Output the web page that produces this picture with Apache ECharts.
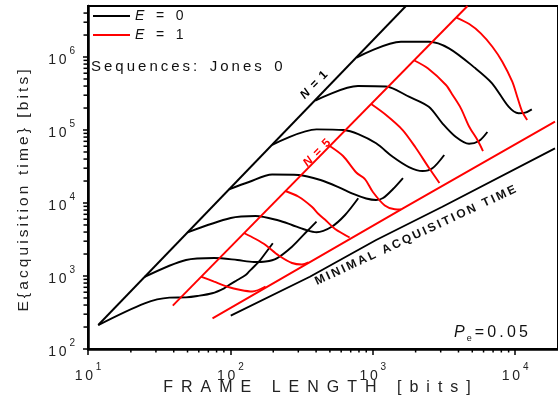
<!DOCTYPE html>
<html>
<head>
<meta charset="utf-8">
<script src="https://cdn.jsdelivr.net/npm/echarts@6/dist/echarts.min.js"></script>
<style>
  html, body { margin: 0; padding: 0; background: #ffffff; }
  #chart { width: 558px; height: 402px; }
</style>
</head>
<body>
<div id="chart"></div>
<script>
// Expected acquisition time against frame length (log-log), Jones sequences,
// black: E = 0, red: E = 1.
const FONT = "'Liberation Sans', Arial, Helvetica, sans-serif";

// ---- axes -------------------------------------------------------------
const xRange = [10, 20000];
const yRange = [100, 5e6];
const xMinorTicks = [20, 30, 40, 50, 60, 70, 80, 90, 200, 300, 400, 500, 600, 700, 800, 900,
                     2000, 3000, 4000, 5000, 6000, 7000, 8000, 9000];
const yMinorTicks = [200, 300, 400, 500, 600, 700, 800, 900, 2000, 3000, 4000, 5000, 6000, 7000, 8000, 9000,
                     2e4, 3e4, 4e4, 5e4, 6e4, 7e4, 8e4, 9e4, 2e5, 3e5, 4e5, 5e5, 6e5, 7e5, 8e5, 9e5,
                     2e6, 3e6, 4e6];
const legendLabels = ['E = 0', 'E = 1'];

// ---- bounding lines [frame length, time] ------------------------------
const boundN1 = [[11.8, 213], [1710, 5.0e6]];
const boundN5 = [[39.4, 392], [4630, 5.0e6]];
const minTimeE0 = [[100.6, 286], [361.6, 977], [1056, 3112], [3083, 8894], [19050, 56100]];
const minTimeE1 = [[74.9, 263], [1630, 8451], [19050, 130000]];

// ---- E = 0 curves ------------------------------------------------------
const e0a = [[11.8, 213], [25.0, 423], [37.3, 505], [48.8, 510], [58.6, 532], [74.5, 580], [90.4, 679],
             [97.9, 753], [111.9, 881], [128, 1032], [135, 1146], [158.6, 1570], [176.6, 2066], [198.6, 2806]];
const e0b = [[25.0, 972], [48.8, 1656], [76.9, 1765], [111.9, 1656], [146.3, 1555], [176.6, 1580],
             [211.8, 1748], [270.8, 2520], [335.9, 3882], [402.7, 5546]];
const e0c = [[50.1, 3968], [100.6, 6231], [150.4, 6637], [218.7, 5754], [270.8, 4995], [332, 4335],
             [402.7, 3968], [515, 4732], [638.9, 6848], [790.7, 11600]];
const e0d = [[97.9, 15410], [135, 19400], [196.4, 24570], [301.6, 24190], [429.5, 20650], [573.5, 16560],
             [729.8, 13290], [899.5, 11520], [1056, 10990], [1182, 11710], [1388, 15550], [1630, 22000]];
const e0e = [[196.4, 62660], [402.7, 102200], [621.8, 100000], [790.7, 88100], [1056, 65740], [1381, 43050],
             [1795, 31110], [2237, 27400], [2624, 29880], [3176, 45450]];
const e0f = [[394.5, 253500], [787, 400600], [1240, 394300], [1795, 285800], [2475, 208400], [3083, 123500],
             [3819, 80900], [4743, 64710], [5570, 70630], [6382, 93890]];
const e0g = [[769.6, 984000], [1578, 1.62e6], [2487, 1.62e6], [3430, 1.315e6], [5268, 699800], [6887, 436700],
             [8995, 208400], [10560, 169400], [11760, 172600], [13090, 192100]];

// ---- E = 1 curves ------------------------------------------------------
const e1a = [[62.1, 984], [76.9, 836], [95.3, 713], [118.2, 643], [142.4, 613], [176.6, 718]];
const e1b = [[124.6, 3882], [150.4, 3212], [176.6, 2659], [218.7, 1909], [270.8, 1507], [318, 1437], [354, 1541]];
const e1c = [[243.6, 14600], [301.6, 12200], [373.5, 8894], [416, 7063], [473, 5667], [543.8, 4404], [687.8, 3368]];
const e1d = [[498.6, 60400], [618.5, 44040], [766, 26170], [881, 21320], [1002, 14150], [1215, 9243],
             [1427, 8197], [1578, 8147]];
const e1e = [[974.6, 227000], [1240, 160600], [1622, 100000], [2009, 56680], [2487, 30130], [2940, 18800]];
const e1f = [[1961, 896000], [2435, 699800], [3268, 413500], [3638, 301600], [4159, 198200], [4760, 110900],
             [5439, 72940], [5943, 51520]];
const e1g = [[3837, 3.5e6], [4760, 2.83e6], [5737, 2.11e6], [6922, 1.384e6], [8128, 862000], [9550, 458700],
             [10340, 285800], [11210, 178100], [12150, 137100]];

const e0Curves = [e0a, e0b, e0c, e0d, e0e, e0f, e0g];
const e1Curves = [e1a, e1b, e1c, e1d, e1e, e1f, e1g];

// ---- helpers -----------------------------------------------------------
const THIN = '\u2009';
const EN = '\u2002';
function spaced(str, gap) { return Array.from(str).join(gap); }

function powerLabel(v) {
  const e = Math.round(Math.log10(v));
  if (Math.abs(v - Math.pow(10, e)) > 1e-6 * v) return '';
  return '{b|1' + THIN + '0' + THIN + '}{s|' + e + '}';
}
const powerRich = {
  b: { fontSize: 14, lineHeight: 21, verticalAlign: 'bottom', fontFamily: FONT, color: '#222' },
  s: { fontSize: 10, lineHeight: 10, verticalAlign: 'top', fontFamily: FONT, color: '#222' }
};

function curveSeries(name, data, color, smooth) {
  return {
    name: name, type: 'line', data: data, symbol: 'none', showSymbol: false,
    smooth: smooth, silent: true, animation: false,
    lineStyle: { color: color, width: 1.9 }, itemStyle: { color: color }
  };
}

function minorTickSeries(points, horizontal) {
  return {
    type: 'custom', silent: true, animation: false, clip: false,
    data: points,
    encode: { x: 0, y: 1 },
    renderItem: function (params, api) {
      const p = api.coord([api.value(0), api.value(1)]);
      const shape = horizontal
        ? { x1: p[0], y1: p[1], x2: p[0], y2: p[1] + 3.5 }
        : { x1: p[0] - 4.5, y1: p[1], x2: p[0], y2: p[1] };
      return { type: 'line', shape: shape, style: { stroke: '#000', lineWidth: 1.5 } };
    }
  };
}

// ---- series ------------------------------------------------------------
const series = [];
e0Curves.forEach(function (c) { series.push(curveSeries(legendLabels[0], c, '#000000', 0.3)); });
series.push(curveSeries(legendLabels[0], boundN1, '#000000', false));
series.push(curveSeries(legendLabels[0], minTimeE0, '#000000', false));
e1Curves.forEach(function (c) { series.push(curveSeries(legendLabels[1], c, '#ff0000', 0.3)); });
series.push(curveSeries(legendLabels[1], boundN5, '#ff0000', false));
series.push(curveSeries(legendLabels[1], minTimeE1, '#ff0000', false));
series.push(minorTickSeries(xMinorTicks.map(function (v) { return [v, yRange[0]]; }), true));
series.push(minorTickSeries(yMinorTicks.map(function (v) { return [xRange[0], v]; }), false));

// ---- annotations -------------------------------------------------------
const deg = Math.PI / 180;
function slopeLabel(txt, color) {
  return { text: '{i|N}' + THIN + ' = ' + THIN + txt, font: 'bold 12px ' + FONT, fill: color,
           align: 'center', verticalAlign: 'middle',
           rich: { i: { fontStyle: 'italic', fontWeight: 'bold', fontSize: 12, fontFamily: FONT, fill: color } } };
}
const graphics = [
  { type: 'text', x: 91, y: 67, silent: true,
    style: { text: spaced('Sequences:', THIN) + '   ' + spaced('Jones', THIN) + '   0',
             font: '15px ' + FONT, fill: '#111', align: 'left', verticalAlign: 'middle' } },
  { type: 'text', x: 314, y: 85, rotation: 46 * deg, silent: true, style: slopeLabel('1', '#000000') },
  { type: 'text', x: 317, y: 153, rotation: 45 * deg, silent: true, style: slopeLabel('5', '#ff0000') },
  { type: 'text', x: 415.5, y: 235.5, rotation: 25 * deg, silent: true,
    style: { text: spaced('MINIMAL ACQUISITION TIME', THIN), font: 'bold 12px ' + FONT, fill: '#111',
             align: 'center', verticalAlign: 'middle' } },
  { type: 'text', x: 528, y: 334, silent: true,
    style: { text: '{i|P}{sub|e}{n|=' + THIN + spaced('0.05', THIN) + '}', align: 'right', verticalAlign: 'middle',
             rich: {
               i: { fontStyle: 'italic', fontSize: 16, fontFamily: FONT, fill: '#111', lineHeight: 18, verticalAlign: 'top' },
               sub: { fontSize: 9, fontFamily: FONT, fill: '#111', lineHeight: 10, verticalAlign: 'bottom', padding: [0, 3, 0, 2] },
               n: { fontSize: 16, fontFamily: FONT, fill: '#111', lineHeight: 18, verticalAlign: 'top' }
             } } },
  { type: 'text', x: 24, y: 190.5, rotation: 90 * deg, silent: true,
    style: { text: spaced('E{acquisition time} [bits]', THIN), font: '15.5px ' + FONT, fill: '#222',
             align: 'center', verticalAlign: 'middle' } },
  { type: 'text', x: 317, y: 387.5, silent: true,
    style: { text: spaced('FRAME LENGTH [bits]', EN), font: '16px ' + FONT, fill: '#222',
             align: 'center', verticalAlign: 'middle' } }
];

// ---- chart -------------------------------------------------------------
const chart = echarts.init(document.getElementById('chart'), null, { renderer: 'canvas' });
chart.setOption({
  animation: false,
  backgroundColor: '#ffffff',
  grid: { left: 88, top: 6, width: 473, height: 343, show: true, borderColor: '#000', borderWidth: 2,
          backgroundColor: 'transparent', containLabel: false },
  legend: {
    data: legendLabels, orient: 'vertical', left: 93, top: 8, padding: 0, icon: 'rect',
    itemWidth: 37, itemHeight: 2, itemGap: 3, selectedMode: false,
    formatter: function (name) { return '{i|E}   =   ' + name.split('= ')[1]; },
    textStyle: {
      fontSize: 14, fontFamily: FONT, color: '#111', lineHeight: 16,
      rich: { i: { fontStyle: 'italic', fontSize: 14, fontFamily: FONT, color: '#111' } }
    }
  },
  xAxis: {
    type: 'log', logBase: 10, min: xRange[0], max: xRange[1],
    axisLine: { show: true, lineStyle: { color: '#000', width: 2.5 } },
    axisTick: { show: true, inside: false, length: 6, lineStyle: { color: '#000', width: 1.5 } },
    axisLabel: { margin: 13, formatter: powerLabel, rich: powerRich, showMaxLabel: false },
    splitLine: { show: false }, minorTick: { show: false }
  },
  yAxis: {
    type: 'log', logBase: 10, min: yRange[0], max: yRange[1],
    axisLine: { show: true, lineStyle: { color: '#000', width: 2.5 } },
    axisTick: { show: true, inside: false, length: 5, lineStyle: { color: '#000', width: 1.5 } },
    axisLabel: { margin: 13, formatter: powerLabel, rich: powerRich, showMaxLabel: false },
    splitLine: { show: false }, minorTick: { show: false }
  },
  graphic: graphics,
  series: series
});
</script>
</body>
</html>
